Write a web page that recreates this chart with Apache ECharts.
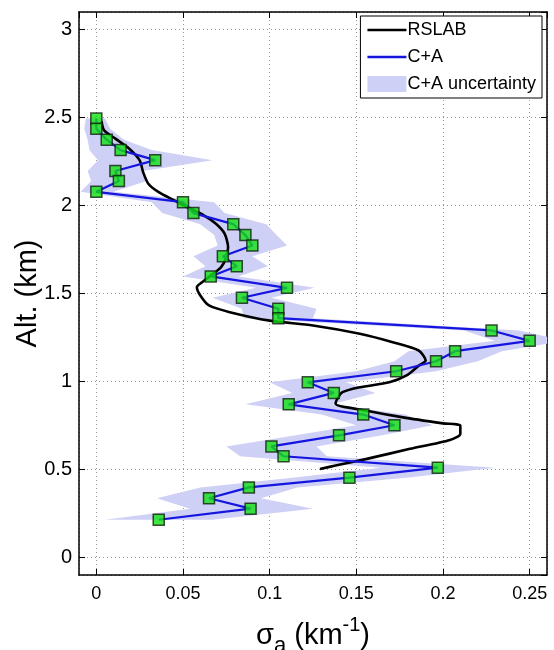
<!DOCTYPE html>
<html>
<head>
<meta charset="utf-8">
<script src="https://cdn.jsdelivr.net/npm/echarts@6/dist/echarts.min.js"></script>
<style>
html,body{margin:0;padding:0;background:#fff;}
#c{width:554px;height:650px;}
</style>
</head>
<body>
<div id="c"></div>
<script>
// C+A retrieval: altitude (km), extinction (km^-1), uncertainty bounds
const caAlt = [2.494, 2.437, 2.374, 2.315, 2.258, 2.196, 2.139, 2.078, 2.019, 1.957, 1.894, 1.832, 1.773, 1.712, 1.655, 1.597, 1.532, 1.476, 1.413, 1.360, 1.290, 1.231, 1.172, 1.115, 1.058, 0.995, 0.935, 0.870, 0.812, 0.751, 0.694, 0.631, 0.575, 0.510, 0.453, 0.398, 0.336, 0.277, 0.214];
const caVal = [0.000, 0.000, 0.006, 0.014, 0.034, 0.011, 0.013, 0.000, 0.050, 0.056, 0.079, 0.086, 0.090, 0.073, 0.081, 0.066, 0.110, 0.084, 0.105, 0.105, 0.228, 0.250, 0.207, 0.196, 0.173, 0.122, 0.137, 0.111, 0.154, 0.172, 0.140, 0.101, 0.108, 0.197, 0.146, 0.088, 0.065, 0.089, 0.036];
const caLow = [-0.006, -0.007, -0.005, -0.004, 0.001, -0.005, -0.003, -0.009, 0.032, 0.038, 0.060, 0.068, 0.070, 0.056, 0.063, 0.050, 0.092, 0.067, 0.084, 0.085, 0.212, 0.230, 0.180, 0.172, 0.150, 0.100, 0.113, 0.086, 0.130, 0.150, 0.115, 0.075, 0.083, 0.164, 0.113, 0.060, 0.035, 0.054, 0.005];
const caHigh = [0.005, 0.008, 0.016, 0.032, 0.067, 0.027, 0.029, 0.010, 0.068, 0.074, 0.098, 0.104, 0.110, 0.090, 0.099, 0.082, 0.126, 0.101, 0.127, 0.125, 0.244, 0.270, 0.234, 0.220, 0.196, 0.144, 0.161, 0.136, 0.178, 0.194, 0.165, 0.127, 0.133, 0.230, 0.179, 0.116, 0.095, 0.125, 0.067];

// RSLAB profile
const rsVal = [0.003, 0.0045, 0.011, 0.019, 0.025, 0.027, 0.030, 0.036, 0.045, 0.054, 0.062, 0.069, 0.074, 0.076, 0.075, 0.072, 0.066, 0.061, 0.058, 0.060, 0.065, 0.077, 0.100, 0.125, 0.152, 0.171, 0.186, 0.190, 0.186, 0.179, 0.169, 0.152, 0.142, 0.139, 0.138, 0.156, 0.177, 0.200, 0.210, 0.210, 0.204, 0.181, 0.156, 0.138, 0.129];
const rsAlt = [2.480, 2.427, 2.380, 2.323, 2.257, 2.190, 2.124, 2.076, 2.029, 1.983, 1.944, 1.896, 1.840, 1.763, 1.707, 1.650, 1.602, 1.564, 1.536, 1.489, 1.432, 1.394, 1.346, 1.318, 1.271, 1.223, 1.176, 1.119, 1.090, 1.034, 0.995, 0.967, 0.939, 0.901, 0.873, 0.834, 0.796, 0.762, 0.749, 0.702, 0.668, 0.617, 0.560, 0.522, 0.503];

const xTicksMin = -0.01, xTicksMax = 0.26;
const yTicksMin = -0.1, yTicksMax = 3.1;

const FONT = '"Liberation Sans", Arial, Helvetica, sans-serif';
const LINE_ICON = 'path://M0,0L40,0L40,2.6L0,2.6Z';

const caPts = caVal.map((v, i) => [v, caAlt[i]]);
const rsPts = rsVal.map((v, i) => [v, rsAlt[i]]);
const bandPts = caLow.map((v, i) => [v, caAlt[i]]).concat(caHigh.map((v, i) => [v, caAlt[i]]).reverse());

const chart = echarts.init(document.getElementById('c'), null, {renderer: 'canvas'});

const axisCommon = {
  type: 'value',
  axisLine: {show: true, onZero: false, lineStyle: {color: '#000', width: 1.5}},
  axisTick: {show: true, inside: true, length: 6, lineStyle: {color: '#000', width: 1}},
};

chart.setOption({
  animation: false,
  backgroundColor: '#fff',
  textStyle: {fontFamily: FONT},
  grid: {left: 79, right: 7, top: 12, bottom: 75, containLabel: false, outerBoundsMode: 'none'},
  legend: {
    orient: 'vertical',
    right: 12, top: 16,
    backgroundColor: '#fff',
    borderColor: '#000', borderWidth: 1,
    padding: [5, 6, 5, 7],
    itemWidth: 39, itemHeight: 16, itemGap: 9,
    symbolKeepAspect: true,
    textStyle: {fontFamily: FONT, fontSize: 18, color: '#000', padding: [0, 0, 0, -4]},
    data: [
      {name: 'RSLAB', icon: LINE_ICON, itemStyle: {color: '#000'}},
      {name: 'C+A', icon: LINE_ICON, itemStyle: {color: '#1515e0'}},
      {name: 'C+A uncertainty', icon: 'rect', itemStyle: {color: '#cfd0f6'}}
    ]
  },
  xAxis: [
    Object.assign({}, axisCommon, {
      position: 'bottom', min: xTicksMin, max: xTicksMax, splitNumber: 5,
      axisLabel: {show: true, color: '#000', fontSize: 18, margin: 10, showMinLabel: false, showMaxLabel: false, fontFamily: FONT},
      splitLine: {show: true, lineStyle: {color: '#999', type: [1, 3], width: 1}},
      name: '{s|σ}{sub|a}{n| (km}{sup|-1}{n|)}',
      nameLocation: 'middle', nameGap: 40,
      nameTextStyle: {
        color: '#000', fontFamily: FONT,
        rich: {
          s: {fontSize: 29, fontFamily: FONT, color: '#000', verticalAlign: 'bottom', padding: [0, 0, 7, 0]},
          sub: {fontSize: 22, fontFamily: FONT, color: '#000', verticalAlign: 'bottom', padding: [0, 0, 0, 0]},
          n: {fontSize: 29, fontFamily: FONT, color: '#000', verticalAlign: 'bottom', padding: [0, 0, 7, 0]},
          sup: {fontSize: 20, fontFamily: FONT, color: '#000', verticalAlign: 'bottom', padding: [0, 0, 22, 0]}
        }
      }
    }),
    Object.assign({}, axisCommon, {
      position: 'top', min: xTicksMin, max: xTicksMax, splitNumber: 5,
      axisLabel: {show: false}, splitLine: {show: false}
    })
  ],
  yAxis: [
    Object.assign({}, axisCommon, {
      position: 'left', min: yTicksMin, max: yTicksMax, splitNumber: 6,
      axisLabel: {show: true, color: '#000', fontSize: 20, margin: 7, showMinLabel: false, showMaxLabel: false, fontFamily: FONT},
      splitLine: {show: true, lineStyle: {color: '#999', type: [1, 3], width: 1}},
      name: 'Alt. (km)', nameLocation: 'middle', nameGap: 37, nameRotate: 90, nameMoveOverlap: false,
      nameTextStyle: {color: '#000', fontSize: 29, fontFamily: FONT}
    }),
    Object.assign({}, axisCommon, {
      position: 'right', min: yTicksMin, max: yTicksMax, splitNumber: 6,
      axisLabel: {show: false}, splitLine: {show: false}
    })
  ],
  series: [
    {
      name: 'C+A uncertainty',
      type: 'custom',
      coordinateSystem: 'cartesian2d',
      clip: true,
      itemStyle: {color: '#cfd0f6'},
      data: [0],
      renderItem: function (params, api) {
        const pts = bandPts.map(p => api.coord(p));
        return {type: 'polygon', shape: {points: pts}, style: {fill: '#cfd0f6', stroke: null}, silent: true};
      },
      z: 1
    },
    {
      name: 'RSLAB',
      type: 'line',
      data: rsPts,
      symbol: 'none',
      smooth: 0.25,
      lineStyle: {color: '#000', width: 2.6},
      itemStyle: {color: '#000'},
      z: 3
    },
    {
      name: 'C+A',
      type: 'line',
      data: caPts,
      symbol: 'none',
      lineStyle: {color: '#1515e0', width: 2.2},
      itemStyle: {color: '#1515e0'},
      z: 4
    },
    {
      name: 'C+A points',
      type: 'scatter',
      data: caPts,
      symbol: 'rect',
      symbolSize: 11,
      itemStyle: {color: '#12e012', borderColor: '#102010', borderWidth: 1.5},
      z: 5
    }
  ]
});
</script>
</body>
</html>
